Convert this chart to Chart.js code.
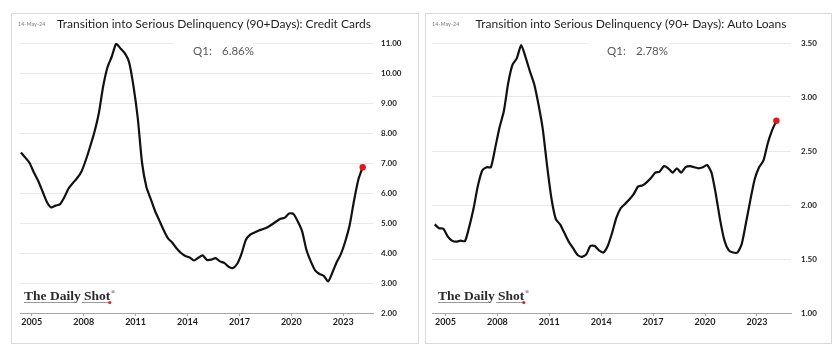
<!DOCTYPE html>
<html lang="en">
<head>
<meta charset="utf-8">
<title>Transition into Serious Delinquency</title>
<script src="https://cdn.jsdelivr.net/npm/chart.js@4.4.1/dist/chart.umd.min.js"></script>
<style>
body {
  margin: 0;
  background: #fff;
  width: 839px;
  height: 360px;
  position: relative;
  overflow: hidden;
}
.frame {
  position: absolute;
  top: 13px;
  height: 331px;
  border: 1px solid #d9d9d9;
  box-sizing: border-box;
}
canvas {
  position: absolute;
  top: 13px;
}
</style>
</head>
<body>
  <div class="frame" style="left:11px;width:408px"></div>
  <div class="frame" style="left:425px;width:407px"></div>
  <canvas id="cards" width="408" height="331" style="left:11px"></canvas>
  <canvas id="autos" width="407" height="331" style="left:425px"></canvas>

<script>
// quarterly data, 2004 Q2 .. 2024 Q1 (NY Fed, % of balances)
const firstQuarter = 2004.375;   // plotted at mid-quarter
const yearTicks = [2005, 2008, 2011, 2014, 2017, 2020, 2023];

const creditCards = [
  7.35, 7.18, 7.00, 6.68, 6.40, 6.05, 5.70, 5.52, 5.58, 5.62,
  5.85, 6.15, 6.33, 6.50, 6.72, 7.10, 7.55, 8.04, 8.66, 9.55,
  10.19, 10.55, 10.97, 10.82, 10.66, 10.36, 9.57, 8.50, 7.00, 6.20,
  5.80, 5.40, 5.08, 4.76, 4.49, 4.34, 4.15, 4.00, 3.90, 3.85,
  3.75, 3.84, 3.92, 3.77, 3.78, 3.83, 3.72, 3.67, 3.54, 3.50,
  3.64, 3.98, 4.44, 4.61, 4.68, 4.75, 4.80, 4.86, 4.95, 5.05,
  5.14, 5.18, 5.32, 5.30, 5.05, 4.72, 4.10, 3.72, 3.42, 3.30,
  3.24, 3.05, 3.35, 3.70, 3.98, 4.40, 4.94, 5.75, 6.45, 6.86
];

const autoLoans = [
  1.82, 1.785, 1.78, 1.71, 1.67, 1.66, 1.67, 1.665, 1.80, 1.97,
  2.18, 2.32, 2.35, 2.35, 2.53, 2.72, 2.87, 3.13, 3.30, 3.36,
  3.48, 3.37, 3.24, 3.12, 2.93, 2.70, 2.36, 2.06, 1.87, 1.82,
  1.74, 1.66, 1.60, 1.54, 1.52, 1.54, 1.62, 1.62, 1.58, 1.56,
  1.62, 1.74, 1.88, 1.97, 2.01, 2.05, 2.10, 2.17, 2.18, 2.21,
  2.25, 2.30, 2.31, 2.36, 2.34, 2.30, 2.34, 2.30, 2.35, 2.36,
  2.35, 2.34, 2.35, 2.37, 2.30, 2.10, 1.86, 1.67, 1.58, 1.56,
  1.56, 1.64, 1.84, 2.05, 2.24, 2.35, 2.41, 2.57, 2.69, 2.78
];

const cardsTitle = 'Transition into Serious Delinquency (90+Days): Credit Cards';
const autosTitle = 'Transition into Serious Delinquency (90+ Days): Auto Loans';
const dateStamp = '14-May-24';

function toPoints(values) {
  return values.map((v, i) => ({ x: firstQuarter + i * 0.25, y: v }));
}

/* title, date, Q1 note and logo */
const panelText = {
  id: 'panelText',
  beforeDatasetsDraw(chart, args, o) {
    const ctx = chart.ctx;
    ctx.save();
    // white box of the note cuts the top gridline
    ctx.fillStyle = '#fff';
    ctx.fillRect(o.boxX, 25, o.boxW, 24);
    ctx.font = '11.5px Lato';
    ctx.fillStyle = '#595959';
    ctx.textBaseline = 'middle';
    ctx.fillText('Q1:', o.noteX, 38);
    ctx.fillText(o.last.toFixed(2) + '%', o.noteX + 29, 38);
    ctx.restore();
  },
  afterDraw(chart, args, o) {
    const ctx = chart.ctx;
    ctx.save();
    ctx.textBaseline = 'middle';

    ctx.font = '5.5px Lato';
    ctx.fillStyle = '#808080';
    ctx.fillText(dateStamp, 7, 11);

    ctx.font = '12px Lato';
    ctx.fillStyle = '#1f1f1f';
    ctx.textAlign = 'center';
    ctx.fillText(o.title, o.titleX, 11);

    // The Daily Shot logo
    ctx.textAlign = 'left';
    ctx.textBaseline = 'alphabetic';
    ctx.font = 'bold 13.5px "Liberation Serif"';
    ctx.fillStyle = '#2b2b2b';
    ctx.fillText('The Daily Shot', 13, 287);
    const w = ctx.measureText('The Daily Shot').width;
    ctx.font = '6px "Liberation Serif"';
    ctx.fillText('®', 13 + w + 0.5, 281);
    ctx.strokeStyle = '#9a9a9a';
    ctx.lineWidth = 1;
    ctx.beginPath();
    ctx.moveTo(13, 289.5);
    ctx.lineTo(64, 289.5);
    ctx.moveTo(71, 289.5);
    ctx.lineTo(13 + w - 2, 289.5);
    ctx.stroke();
    ctx.fillStyle = '#e31e24';
    ctx.beginPath();
    ctx.arc(13 + w - 0.5, 289.5, 1.6, 0, Math.PI * 2);
    ctx.fill();
    ctx.restore();
  }
};

function makeChart(id, values, cfg) {
  const last = values.length - 1;
  return new Chart(document.getElementById(id), {
    type: 'line',
    data: {
      datasets: [{
        data: toPoints(values),
        borderColor: '#111',
        borderWidth: 2.2,
        tension: 0.2,
        pointRadius: (c) => c.dataIndex === last ? 3.2 : 0,
        pointBackgroundColor: '#e8141b',
        pointBorderColor: '#e8141b',
        pointBorderWidth: 0
      }]
    },
    options: {
      responsive: false,
      animation: false,
      events: [],
      layout: { padding: { top: 30, left: cfg.left, right: 0, bottom: 0 } },
      plugins: {
        legend: { display: false },
        tooltip: { enabled: false },
        panelText: {
          title: cfg.title,
          titleX: cfg.titleX,
          noteX: 182,
          boxX: cfg.boxX,
          boxW: cfg.boxW,
          last: values[last]
        }
      },
      scales: {
        x: {
          type: 'linear',
          min: cfg.xMin,
          max: cfg.xMax,
          afterBuildTicks: (s) => { s.ticks = yearTicks.map(v => ({ value: v })); },
          afterFit: (s) => { s.height = 31; },
          grid: {
            drawOnChartArea: false,
            drawTicks: true,
            tickLength: 3,
            tickColor: '#a6a6a6'
          },
          border: { display: true, color: '#a6a6a6', width: 1 },
          ticks: {
            padding: 1,
            maxRotation: 0,
            color: '#1f1f1f',
            font: { family: 'Lato', size: 9, weight: 'bold' },
            callback: (v) => String(v)
          }
        },
        y: {
          position: 'right',
          min: cfg.yMin,
          max: cfg.yMax,
          afterFit: (s) => { s.width = cfg.axisW; },
          grid: {
            drawTicks: false,
            color: (c) => c.tick.value === cfg.yMin ? '#a6a6a6' : '#e9e9e9'
          },
          border: { display: false },
          ticks: {
            stepSize: cfg.yStep,
            padding: cfg.labelPad,
            color: '#1f1f1f',
            font: { family: 'Lato', size: 8, weight: 'bold' },
            callback: (v) => v.toFixed(2)
          }
        }
      }
    },
    plugins: [panelText]
  });
}

makeChart('cards', creditCards, {
  title: cardsTitle, titleX: 203,
  left: 9, axisW: 46, labelPad: 8,
  xMin: 2004.32, xMax: 2024.72,
  yMin: 2, yMax: 11, yStep: 1,
  boxX: 162, boxW: 80
});

makeChart('autos', autoLoans, {
  title: autosTitle, titleX: 206,
  left: 7, axisW: 41, labelPad: 10,
  xMin: 2004.22, xMax: 2024.97,
  yMin: 1, yMax: 3.5, yStep: 0.5,
  boxX: 162, boxW: 82
});
</script>
</body>
</html>
